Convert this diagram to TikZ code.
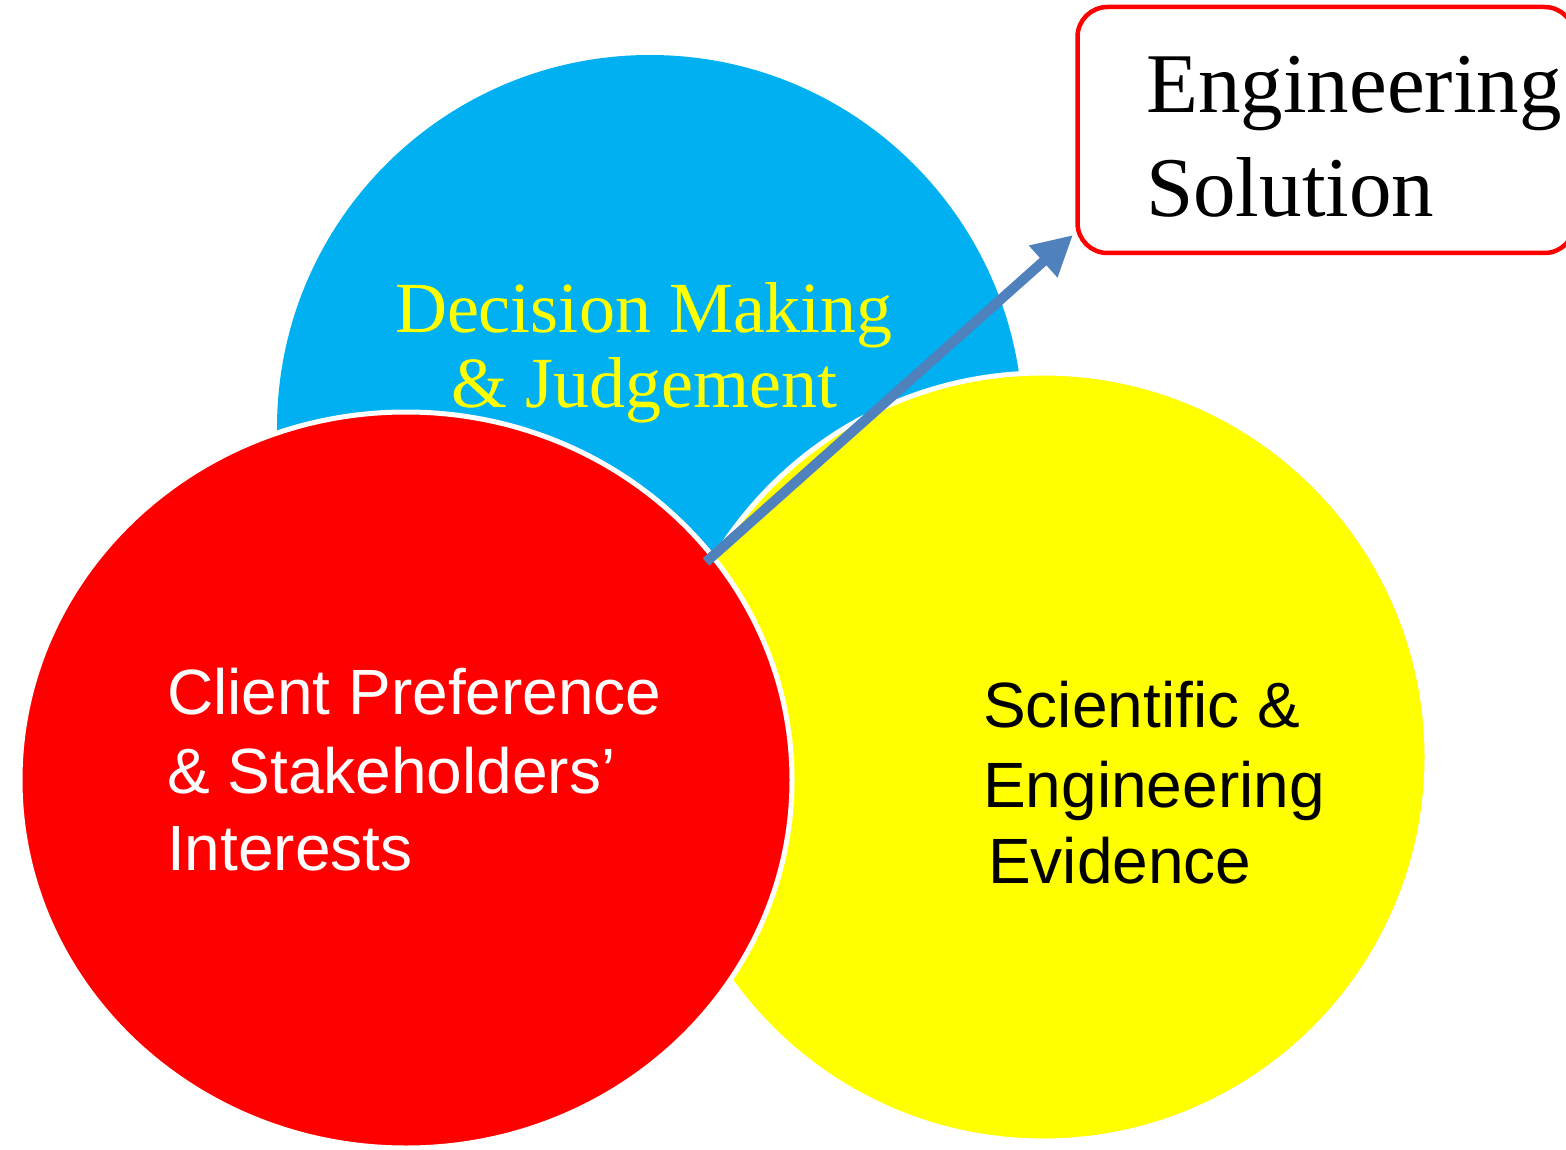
\documentclass[tikz,border=0pt]{standalone}
\usepackage{fontspec}
\setmainfont{Liberation Serif}
\newfontfamily\arialfont{Liberation Sans}
\usetikzlibrary{shapes.geometric,arrows.meta}
\definecolor{cblue}{RGB}{0,176,240}
\definecolor{cyell}{RGB}{255,255,0}
\definecolor{cred}{RGB}{255,0,0}
\definecolor{carrow}{RGB}{79,129,189}
\tikzset{
  bubble/.style={ellipse, inner sep=0pt, outer sep=0pt},
  serifbig/.style={inner sep=0pt, font=\fontsize{85}{104}\selectfont, text=black},
  serifmid/.style={inner sep=0pt, font=\fontsize{72}{74}\selectfont, text=cyell},
  sanslab/.style={inner sep=0pt, font=\arialfont\fontsize{64}{78}\selectfont},
}
\begin{document}
\begin{tikzpicture}[x=1pt,y=-1pt]
\useasboundingbox (0,0) rectangle (1566,1150);
% circles
\node[bubble, fill=cblue, minimum width=746pt, minimum height=746pt] (blue) at (650,428) {};
\node[bubble, fill=cyell, draw=white, line width=5pt, minimum width=768pt, minimum height=768pt] (yellow) at (1043,757) {};
\node[bubble, fill=cred, draw=white, line width=5pt, minimum width=772pt, minimum height=736pt] (redc) at (406,780) {};
% solution box
\node[draw=cred, line width=4.5pt, rounded corners=30pt, minimum width=497pt, minimum height=246pt, inner sep=0pt] (sol) at (1326,130) {};
% texts
\node[serifbig, anchor=base west] (sol1) at (1146,113) {Engineering};
\node[serifbig, anchor=base west] (sol2) at (1146,217) {Solution};
\node[serifmid, anchor=base] (dm1) at (644,333) {Decision Making};
\node[serifmid, anchor=base] (dm2) at (644,407) {\& Judgement};
\node[sanslab, text=white, anchor=base west] (cp1) at (167,714) {Client Preference};
\node[sanslab, text=white, anchor=base west] (cp2) at (167,793) {\& Stakeholders’};
\node[sanslab, text=white, anchor=base west] (cp3) at (167,870) {Interests};
\node[sanslab, text=black, anchor=base west] (se1) at (983,727) {Scientific \&};
\node[sanslab, text=black, anchor=base west] (se2) at (983,807) {Engineering};
\node[sanslab, text=black, anchor=base west] (se3) at (988,883) {Evidence};
% arrow
\coordinate (tail) at (706,562);
\coordinate (tip) at (1073,235);
\draw[carrow, line width=10pt, -{Triangle[length=40pt,width=40pt]}] (tail) -- (tip);
\end{tikzpicture}
\end{document}
